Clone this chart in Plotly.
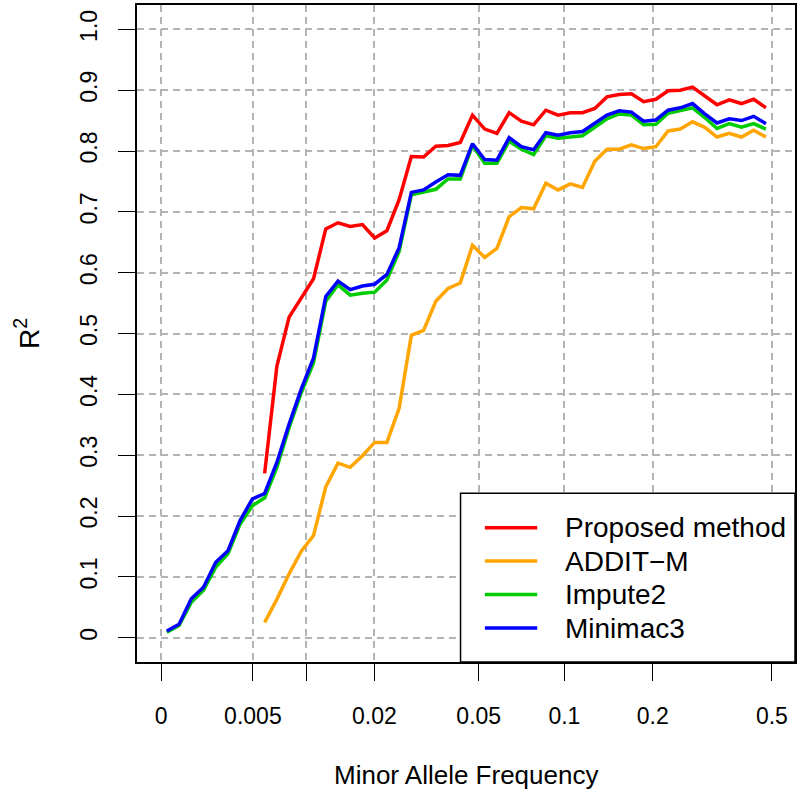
import plotly.graph_objects as go

# bins along the MAF axis (equally spaced in the plotted scale)
bins = list(range(1, 51))

proposed = [None] * 8 + [
    0.270, 0.446, 0.527, 0.558, 0.590, 0.672, 0.682, 0.676, 0.679, 0.657,
    0.669, 0.720, 0.791, 0.790, 0.808, 0.809, 0.814, 0.859, 0.836, 0.829,
    0.863, 0.849, 0.843, 0.867, 0.859, 0.863, 0.863, 0.870, 0.889, 0.893,
    0.894, 0.881, 0.885, 0.899, 0.900, 0.905, 0.891, 0.876, 0.884, 0.878,
    0.885, 0.871,
]
addit_m = [None] * 8 + [
    0.025, 0.063, 0.105, 0.142, 0.168, 0.248, 0.287, 0.280, 0.299, 0.321,
    0.321, 0.377, 0.497, 0.505, 0.553, 0.574, 0.583, 0.645, 0.625, 0.640,
    0.692, 0.707, 0.705, 0.747, 0.736, 0.746, 0.740, 0.783, 0.803, 0.803,
    0.810, 0.804, 0.807, 0.833, 0.836, 0.848, 0.839, 0.823, 0.829, 0.823,
    0.834, 0.823,
]
impute2 = [
    0.009, 0.020, 0.058, 0.078, 0.116, 0.138, 0.187, 0.217, 0.230, 0.280,
    0.345, 0.403, 0.452, 0.553, 0.580, 0.563, 0.566, 0.568, 0.588, 0.635,
    0.728, 0.733, 0.737, 0.754, 0.754, 0.809, 0.780, 0.780, 0.816, 0.803,
    0.794, 0.825, 0.821, 0.823, 0.825, 0.839, 0.853, 0.861, 0.859, 0.843,
    0.844, 0.862, 0.866, 0.871, 0.855, 0.837, 0.845, 0.839, 0.845, 0.836,
]
minimac3 = [
    0.011, 0.022, 0.064, 0.083, 0.124, 0.143, 0.193, 0.228, 0.237, 0.288,
    0.351, 0.409, 0.460, 0.561, 0.586, 0.572, 0.578, 0.581, 0.597, 0.641,
    0.732, 0.736, 0.749, 0.761, 0.760, 0.812, 0.786, 0.785, 0.822, 0.807,
    0.802, 0.830, 0.826, 0.830, 0.832, 0.845, 0.859, 0.866, 0.864, 0.849,
    0.851, 0.867, 0.871, 0.878, 0.861, 0.846, 0.853, 0.850, 0.857, 0.845,
]

series_names = ["Proposed method", "ADDIT\u2212M", "Impute2", "Minimac3"]
series_colors = ["#FF0000", "#FFA500", "#00CD00", "#0000FF"]

# MAF tick positions in bin units and their labels (0.01 label is dropped)
tick_pos = [0.54, 8.04, 12.40, 17.98, 26.51, 33.52, 40.74, 50.49]
tick_text = ["0", "0.005", "", "0.02", "0.05", "0.1", "0.2", "0.5"]
y_ticks = [0, 0.1, 0.2, 0.3, 0.4, 0.5, 0.6, 0.7, 0.8, 0.9, 1.0]
y_text = ["0", "0.1", "0.2", "0.3", "0.4", "0.5", "0.6", "0.7", "0.8", "0.9", "1.0"]

FONT = "Liberation Sans, Arial, sans-serif"

fig = go.Figure()
for name, vals, col in zip(series_names, [proposed, addit_m, impute2, minimac3], series_colors):
    fig.add_trace(
        go.Scatter(
            x=bins,
            y=vals,
            mode="lines",
            name=name,
            line=dict(color=col, width=3.5),
            showlegend=False,
        )
    )

axis_common = dict(
    showline=True,
    linecolor="black",
    linewidth=1.5,
    mirror=True,
    ticks="outside",
    ticklen=17,
    tickwidth=1.2,
    tickcolor="black",
    showgrid=True,
    gridcolor="#b4b4b4",
    gridwidth=1.5,
    griddash="7px,5px",
    zeroline=False,
    tickfont=dict(family=FONT, size=23, color="black"),
)

fig.update_xaxes(
    range=[-1.44, 52.38],
    tickvals=tick_pos,
    ticktext=tick_text,
    ticklabelstandoff=16,
    **axis_common,
)
fig.update_yaxes(
    range=[-0.04, 1.04],
    tickvals=y_ticks,
    ticktext=y_text,
    tickangle=-90,
    ticklabelstandoff=12,
    **axis_common,
)

# legend drawn by hand in the bottom-right corner (R style)
box_x0, box_y1 = 0.4917, 0.2569
line_x0, line_x1, text_x = 0.5287, 0.6082, 0.6477
row_y = [0.2044, 0.1537, 0.1027, 0.0516]
shapes = [
    dict(type="rect", xref="paper", yref="paper", x0=box_x0, x1=1, y0=0, y1=box_y1,
         line=dict(color="black", width=1.5), fillcolor="white", layer="above")
]
annotations = []
for name, col, ry in zip(series_names, series_colors, row_y):
    shapes.append(dict(type="line", xref="paper", yref="paper", x0=line_x0, x1=line_x1,
                       y0=ry, y1=ry, line=dict(color=col, width=3.5), layer="above"))
    annotations.append(dict(xref="paper", yref="paper", x=text_x, y=ry, text=name,
                            showarrow=False, xanchor="left", yanchor="middle",
                            font=dict(family=FONT, size=28, color="black")))

annotations.append(dict(xref="paper", yref="paper", x=0.5, y=-0.1715,
                        text="Minor Allele Frequency", showarrow=False,
                        xanchor="center", yanchor="middle",
                        font=dict(family=FONT, size=26, color="black")))
annotations.append(dict(xref="paper", yref="paper", x=-0.168, y=0.5,
                        text="R<sup>2</sup>", showarrow=False, textangle=-90,
                        xanchor="center", yanchor="middle",
                        font=dict(family=FONT, size=28, color="black")))

fig.update_layout(
    width=800,
    height=799,
    margin=dict(l=137, r=5, t=3, b=137),
    paper_bgcolor="white",
    plot_bgcolor="white",
    shapes=shapes,
    annotations=annotations,
)

fig.write_html(
    "out.html",
    config={"displayModeBar": False},
    post_script="document.body.style.margin='0';document.body.style.overflow='hidden';",
)
